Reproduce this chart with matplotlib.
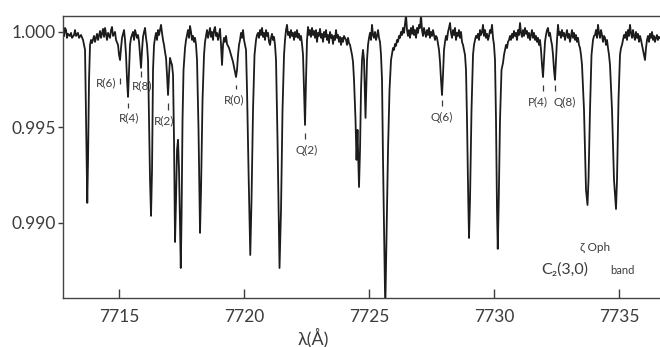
import numpy as np
import matplotlib
matplotlib.use("Agg")
import matplotlib.pyplot as plt

wave = [
    7712.80, 7712.84, 7712.88, 7712.92, 7712.96, 7713.04, 7713.08, 7713.12, 7713.20, 7713.24,
    7713.28, 7713.36, 7713.40, 7713.48, 7713.56, 7713.64, 7713.70, 7713.73, 7713.76, 7713.80,
    7713.84, 7713.88, 7713.92, 7714.00, 7714.04, 7714.12, 7714.16, 7714.24, 7714.28, 7714.36,
    7714.40, 7714.44, 7714.52, 7714.56, 7714.64, 7714.68, 7714.72, 7714.76, 7714.84, 7714.88,
    7714.96, 7715.00, 7715.04, 7715.08, 7715.12, 7715.20, 7715.24, 7715.28, 7715.32, 7715.36,
    7715.40, 7715.44, 7715.48, 7715.56, 7715.60, 7715.64, 7715.72, 7715.76, 7715.80, 7715.84,
    7715.88, 7715.92, 7715.96, 7716.00, 7716.04, 7716.08, 7716.12, 7716.16, 7716.24, 7716.28,
    7716.32, 7716.36, 7716.40, 7716.44, 7716.48, 7716.52, 7716.56, 7716.60, 7716.68, 7716.72,
    7716.76, 7716.80, 7716.84, 7716.88, 7716.92, 7716.96, 7717.00, 7717.04, 7717.08, 7717.12,
    7717.16, 7717.20, 7717.24, 7717.28, 7717.32, 7717.36, 7717.40, 7717.47, 7717.50, 7717.54,
    7717.58, 7717.64, 7717.68, 7717.72, 7717.76, 7717.80, 7717.84, 7717.88, 7717.92, 7717.96,
    7718.00, 7718.04, 7718.08, 7718.12, 7718.18, 7718.24, 7718.28, 7718.34, 7718.40, 7718.44,
    7718.48, 7718.52, 7718.56, 7718.60, 7718.64, 7718.68, 7718.72, 7718.76, 7718.80, 7718.84,
    7718.88, 7718.92, 7718.96, 7719.00, 7719.04, 7719.08, 7719.12, 7719.16, 7719.20, 7719.24,
    7719.28, 7719.32, 7719.40, 7719.48, 7719.56, 7719.64, 7719.68, 7719.72, 7719.76, 7719.80,
    7719.84, 7719.88, 7719.92, 7719.96, 7720.00, 7720.08, 7720.12, 7720.18, 7720.25, 7720.30,
    7720.36, 7720.42, 7720.48, 7720.52, 7720.56, 7720.60, 7720.64, 7720.68, 7720.72, 7720.76,
    7720.80, 7720.84, 7720.88, 7720.92, 7720.96, 7721.00, 7721.04, 7721.08, 7721.12, 7721.16,
    7721.20, 7721.24, 7721.28, 7721.34, 7721.42, 7721.48, 7721.54, 7721.60, 7721.64, 7721.68,
    7721.72, 7721.76, 7721.80, 7721.84, 7721.88, 7721.92, 7721.96, 7722.00, 7722.04, 7722.08,
    7722.12, 7722.16, 7722.20, 7722.24, 7722.28, 7722.32, 7722.36, 7722.40, 7722.44, 7722.48,
    7722.52, 7722.56, 7722.60, 7722.64, 7722.68, 7722.72, 7722.76, 7722.80, 7722.84, 7722.88,
    7722.92, 7722.96, 7723.00, 7723.04, 7723.08, 7723.12, 7723.16, 7723.20, 7723.24, 7723.28,
    7723.32, 7723.36, 7723.40, 7723.44, 7723.48, 7723.52, 7723.56, 7723.60, 7723.64, 7723.68,
    7723.72, 7723.76, 7723.80, 7723.84, 7723.88, 7723.92, 7723.96, 7724.00, 7724.08, 7724.12,
    7724.16, 7724.20, 7724.24, 7724.28, 7724.32, 7724.36, 7724.40, 7724.46, 7724.50, 7724.54,
    7724.60, 7724.64, 7724.68, 7724.72, 7724.76, 7724.80, 7724.83, 7724.86, 7724.89, 7724.92,
    7724.96, 7725.00, 7725.04, 7725.08, 7725.12, 7725.16, 7725.20, 7725.24, 7725.28, 7725.32,
    7725.36, 7725.40, 7725.44, 7725.48, 7725.52, 7725.56, 7725.65, 7725.70, 7725.76, 7725.82,
    7725.88, 7725.96, 7726.00, 7726.04, 7726.08, 7726.12, 7726.16, 7726.20, 7726.24, 7726.28,
    7726.32, 7726.36, 7726.40, 7726.44, 7726.48, 7726.52, 7726.56, 7726.60, 7726.64, 7726.68,
    7726.72, 7726.76, 7726.80, 7726.84, 7726.88, 7726.92, 7726.96, 7727.00, 7727.04, 7727.08,
    7727.12, 7727.16, 7727.20, 7727.24, 7727.28, 7727.32, 7727.36, 7727.40, 7727.44, 7727.48,
    7727.52, 7727.56, 7727.60, 7727.64, 7727.68, 7727.72, 7727.76, 7727.80, 7727.84, 7727.88,
    7727.92, 7727.96, 7728.00, 7728.04, 7728.08, 7728.12, 7728.16, 7728.20, 7728.24, 7728.28,
    7728.32, 7728.36, 7728.40, 7728.44, 7728.48, 7728.52, 7728.56, 7728.60, 7728.64, 7728.68,
    7728.72, 7728.76, 7728.80, 7728.84, 7728.88, 7728.92, 7728.97, 7729.00, 7729.04, 7729.10,
    7729.16, 7729.20, 7729.24, 7729.28, 7729.32, 7729.36, 7729.40, 7729.44, 7729.48, 7729.52,
    7729.56, 7729.60, 7729.64, 7729.68, 7729.72, 7729.76, 7729.80, 7729.84, 7729.88, 7729.92,
    7729.96, 7730.00, 7730.04, 7730.08, 7730.12, 7730.15, 7730.19, 7730.24, 7730.30, 7730.36,
    7730.40, 7730.44, 7730.48, 7730.52, 7730.56, 7730.60, 7730.64, 7730.68, 7730.72, 7730.76,
    7730.80, 7730.84, 7730.88, 7730.92, 7730.96, 7731.00, 7731.04, 7731.08, 7731.12, 7731.16,
    7731.20, 7731.24, 7731.28, 7731.32, 7731.36, 7731.40, 7731.44, 7731.48, 7731.52, 7731.56,
    7731.60, 7731.64, 7731.68, 7731.72, 7731.76, 7731.80, 7731.84, 7731.88, 7731.92, 7731.96,
    7732.00, 7732.04, 7732.08, 7732.12, 7732.16, 7732.20, 7732.24, 7732.28, 7732.32, 7732.36,
    7732.40, 7732.44, 7732.48, 7732.52, 7732.56, 7732.60, 7732.64, 7732.68, 7732.72, 7732.76,
    7732.80, 7732.84, 7732.88, 7732.92, 7732.96, 7733.00, 7733.04, 7733.08, 7733.12, 7733.16,
    7733.20, 7733.24, 7733.28, 7733.32, 7733.36, 7733.40, 7733.44, 7733.48, 7733.52, 7733.60,
    7733.68, 7733.74, 7733.78, 7733.84, 7733.90, 7733.96, 7734.00, 7734.04, 7734.08, 7734.12,
    7734.16, 7734.20, 7734.24, 7734.28, 7734.32, 7734.36, 7734.40, 7734.44, 7734.48, 7734.52,
    7734.56, 7734.60, 7734.64, 7734.72, 7734.80, 7734.88, 7734.92, 7734.98, 7735.04, 7735.08,
    7735.12, 7735.16, 7735.20, 7735.24, 7735.28, 7735.32, 7735.36, 7735.40, 7735.44, 7735.48,
    7735.52, 7735.56, 7735.60, 7735.64, 7735.68, 7735.72, 7735.76, 7735.80, 7735.84, 7735.88,
    7735.92, 7735.96, 7736.00, 7736.04, 7736.08, 7736.12, 7736.16, 7736.20, 7736.24, 7736.28,
    7736.32, 7736.36, 7736.40, 7736.44, 7736.48, 7736.52, 7736.56, 7736.60, 7736.64,
]

flux = [
    0.99979, 1.00021, 1.00010, 0.99969, 0.99990, 0.99979, 0.99995, 0.99969, 0.99984, 1.00010,
    0.99979, 0.99995, 0.99969, 0.99984, 0.99958, 0.99906, 0.99382, 0.99105, 0.99330, 0.99749,
    0.99932, 0.99958, 0.99942, 0.99979, 0.99948, 0.99990, 0.99958, 1.00005, 0.99969, 1.00016,
    0.99974, 1.00021, 0.99958, 0.99995, 0.99969, 1.00010, 1.00026, 0.99979, 1.00000, 0.99958,
    0.99932, 0.99880, 0.99853, 0.99916, 0.99969, 1.00010, 0.99958, 0.99880, 0.99749, 0.99660,
    0.99801, 0.99932, 0.99969, 1.00000, 0.99958, 1.00010, 0.99969, 0.99984, 0.99948, 0.99880,
    0.99812, 0.99906, 0.99974, 1.00000, 1.00021, 0.99969, 0.99932, 0.99853, 0.99225, 0.99037,
    0.99277, 0.99801, 0.99932, 0.99969, 0.99995, 0.99958, 1.00010, 0.99984, 1.00037, 0.99995,
    0.99958, 0.99932, 0.99895, 0.99864, 0.99775, 0.99670, 0.99775, 0.99864, 0.99843, 0.99827,
    0.99775, 0.99435, 0.98900, 0.99120, 0.99382, 0.99435, 0.99277, 0.98764, 0.99016, 0.99539,
    0.99801, 0.99916, 0.99958, 0.99984, 1.00010, 0.99969, 1.00031, 1.00000, 0.99958, 0.99979,
    0.99948, 0.99969, 0.99932, 0.99853, 0.99487, 0.98948, 0.99173, 0.99644, 0.99880, 0.99948,
    0.99979, 1.00010, 0.99969, 0.99995, 1.00021, 0.99974, 1.00000, 0.99958, 1.00010, 1.00026,
    0.99979, 0.99995, 0.99958, 0.99984, 1.00016, 0.99932, 0.99827, 0.99932, 0.99969, 0.99948,
    0.99979, 0.99937, 0.99916, 0.99880, 0.99843, 0.99791, 0.99764, 0.99801, 0.99880, 0.99932,
    0.99958, 0.99995, 0.99969, 1.00010, 0.99958, 0.99906, 0.99696, 0.99277, 0.98832, 0.99120,
    0.99592, 0.99880, 0.99958, 0.99984, 0.99995, 0.99969, 1.00010, 0.99984, 1.00021, 0.99974,
    0.99995, 0.99958, 1.00010, 0.99979, 0.99995, 0.99948, 0.99932, 0.99969, 0.99990, 0.99958,
    0.99974, 0.99932, 0.99853, 0.99435, 0.98764, 0.99068, 0.99592, 0.99880, 0.99958, 1.00010,
    1.00037, 0.99984, 1.00000, 0.99969, 1.00010, 0.99979, 0.99995, 0.99958, 1.00000, 0.99974,
    1.00010, 0.99969, 0.99990, 0.99958, 0.99979, 0.99937, 0.99880, 0.99696, 0.99513, 0.99749,
    0.99958, 1.00026, 0.99984, 1.00010, 0.99974, 1.00021, 0.99984, 1.00005, 0.99969, 1.00010,
    0.99948, 0.99995, 0.99979, 1.00016, 0.99969, 0.99990, 0.99948, 1.00000, 0.99974, 1.00010,
    0.99958, 0.99984, 0.99942, 1.00000, 0.99969, 0.99984, 0.99937, 0.99979, 0.99958, 1.00010,
    0.99969, 0.99984, 0.99948, 0.99974, 0.99932, 0.99969, 0.99948, 0.99979, 0.99958, 0.99932,
    0.99969, 0.99942, 0.99932, 0.99906, 0.99880, 0.99843, 0.99749, 0.99539, 0.99330, 0.99487,
    0.99188, 0.99382, 0.99696, 0.99853, 0.99906, 0.99853, 0.99696, 0.99550, 0.99696, 0.99853,
    0.99932, 0.99969, 0.99995, 0.99958, 1.00037, 0.99984, 0.99969, 1.00000, 0.99958, 0.99979,
    1.00010, 0.99969, 0.99948, 0.99880, 0.99749, 0.99330, 0.98544, 0.98911, 0.99382, 0.99696,
    0.99853, 0.99916, 0.99906, 0.99937, 0.99927, 0.99958, 0.99948, 0.99979, 0.99969, 1.00000,
    0.99984, 1.00021, 0.99995, 1.00042, 1.00089, 1.00010, 0.99979, 1.00010, 0.99969, 1.00021,
    0.99990, 1.00031, 0.99984, 1.00010, 0.99969, 1.00021, 0.99995, 1.00037, 1.00021, 1.00089,
    1.00010, 0.99979, 1.00021, 0.99995, 0.99974, 1.00010, 0.99984, 1.00021, 0.99969, 1.00000,
    0.99979, 1.00010, 0.99984, 0.99958, 0.99979, 0.99969, 0.99937, 0.99906, 0.99843, 0.99749,
    0.99670, 0.99775, 0.99906, 0.99948, 0.99979, 0.99958, 1.00000, 1.00021, 1.00047, 0.99995,
    0.99969, 1.00010, 0.99984, 1.00021, 0.99958, 0.99995, 0.99979, 1.00010, 0.99969, 1.00000,
    0.99948, 0.99932, 0.99906, 0.99880, 0.99801, 0.99539, 0.99120, 0.98921, 0.99120, 0.99592,
    0.99880, 0.99932, 0.99958, 0.99979, 0.99969, 0.99990, 0.99958, 1.00010, 0.99984, 1.00000,
    1.00037, 0.99979, 1.00010, 0.99969, 0.99990, 0.99958, 0.99979, 1.00010, 0.99995, 1.00037,
    0.99969, 0.99932, 0.99853, 0.99539, 0.99068, 0.98864, 0.99120, 0.99539, 0.99801, 0.99838,
    0.99880, 0.99906, 0.99932, 0.99916, 0.99948, 0.99958, 0.99979, 0.99958, 0.99990, 0.99969,
    1.00005, 0.99979, 0.99995, 0.99958, 1.00010, 0.99984, 1.00047, 0.99995, 0.99974, 1.00010,
    0.99979, 1.00021, 0.99990, 1.00005, 0.99969, 0.99995, 0.99958, 0.99984, 1.00010, 0.99969,
    0.99995, 0.99958, 0.99979, 0.99948, 0.99969, 0.99932, 0.99958, 0.99906, 0.99827, 0.99764,
    0.99853, 0.99948, 0.99984, 1.00010, 1.00021, 0.99979, 0.99995, 0.99958, 0.99932, 0.99880,
    0.99801, 0.99749, 0.99853, 0.99958, 1.00037, 0.99984, 1.00000, 0.99969, 1.00010, 0.99979,
    0.99995, 0.99958, 0.99984, 1.00010, 0.99969, 0.99990, 0.99948, 0.99979, 1.00010, 0.99969,
    0.99995, 0.99958, 0.99984, 0.99948, 0.99969, 0.99932, 0.99916, 0.99880, 0.99827, 0.99592,
    0.99173, 0.99094, 0.99225, 0.99592, 0.99880, 0.99958, 0.99979, 0.99984, 1.00010, 0.99969,
    1.00037, 0.99995, 0.99969, 1.00010, 0.99984, 0.99948, 0.99979, 0.99969, 0.99932, 0.99958,
    0.99916, 0.99880, 0.99827, 0.99592, 0.99225, 0.99073, 0.99225, 0.99644, 0.99880, 0.99916,
    0.99932, 0.99958, 0.99984, 0.99969, 1.00000, 0.99958, 1.00010, 0.99979, 1.00037, 0.99995,
    0.99969, 1.00010, 0.99979, 0.99958, 1.00000, 0.99969, 0.99990, 0.99948, 0.99979, 0.99958,
    0.99932, 0.99906, 0.99880, 0.99853, 0.99916, 0.99958, 0.99979, 0.99948, 0.99990, 0.99969,
    1.00000, 0.99958, 0.99979, 0.99948, 0.99969, 0.99984, 0.99958, 0.99974, 0.99969,
]

# line identifications
line_names = ["R(6)", "R(8)", "R(4)", "R(2)", "R(0)", "Q(2)", "Q(6)", "P(4)", "Q(8)"]
line_waves = [7715.04, 7715.88, 7715.36, 7716.96, 7719.68, 7722.44, 7727.92, 7731.96, 7732.44]
mark_top = [0.99759, 0.99796, 0.99628, 0.99628, 0.99723, 0.99471, 0.99644, 0.99723, 0.99723]
mark_bot = [0.99728, 0.99764, 0.99602, 0.99592, 0.99701, 0.99439, 0.99612, 0.99691, 0.99691]
label_x = [7714.48, 7715.92, 7715.40, 7716.80, 7719.60, 7722.52, 7727.92, 7731.76, 7732.84]
label_y = [0.99733, 0.99717, 0.99550, 0.99534, 0.99644, 0.99377, 0.99550, 0.99633, 0.99633]

x_ticks = [7715, 7720, 7725, 7730, 7735]
y_ticks = [0.990, 0.995, 1.000]
y_labels = ["0.990", "0.995", "1.000"]

fam = ["Lato", "DejaVu Sans"]
plt.rcParams["font.family"] = fam
ink = "#1c1c1c"
txt = "#3c3c3c"

fig = plt.figure(figsize=(6.6, 3.47), dpi=100)
ax = fig.add_axes([0.0955, 0.1424, 0.9045, 0.8129])

ax.plot(wave, flux, color=ink, lw=1.3)

ax.vlines(line_waves, mark_bot, mark_top, color=txt, lw=0.9)
for name, lx, ly in zip(line_names, label_x, label_y):
    ax.text(lx, ly, name, ha="center", va="center", fontsize=8.5, color=txt)

ax.text(7734.04, 0.98874, "ζ Oph", ha="center", va="center", fontsize=8.5, color=txt)
ax.text(7732.84, 0.98756, "C₂(3,0)", ha="center", va="center", fontsize=11.5, color=txt)
ax.text(7735.12, 0.98750, "band", ha="center", va="center", fontsize=8, color=txt)

ax.set_xlim(7712.76, 7736.64)
ax.set_ylim(0.98609, 1.00086)

ax.set_xticks(x_ticks)
ax.set_xticklabels([str(t) for t in x_ticks])
ax.set_yticks(y_ticks)
ax.set_yticklabels(y_labels)
ax.tick_params(axis="x", direction="in", length=6.5, width=1, pad=8,
               labelsize=12.5, colors=txt)
ax.tick_params(axis="y", direction="out", length=3.5, width=1, pad=1.5,
               labelsize=12.5, colors=txt, right=True)
ax.tick_params(axis="y", which="major", labelright=False)

for side in ["left", "bottom", "top"]:
    ax.spines[side].set_color("#444444")
    ax.spines[side].set_linewidth(1.0)
ax.spines["right"].set_visible(False)

fig.text(313 / 660, 1 - 338 / 347, "λ(Å)", ha="center", va="center",
         fontsize=13, color=txt)

fig.savefig("out.png", dpi=100, facecolor="white")
